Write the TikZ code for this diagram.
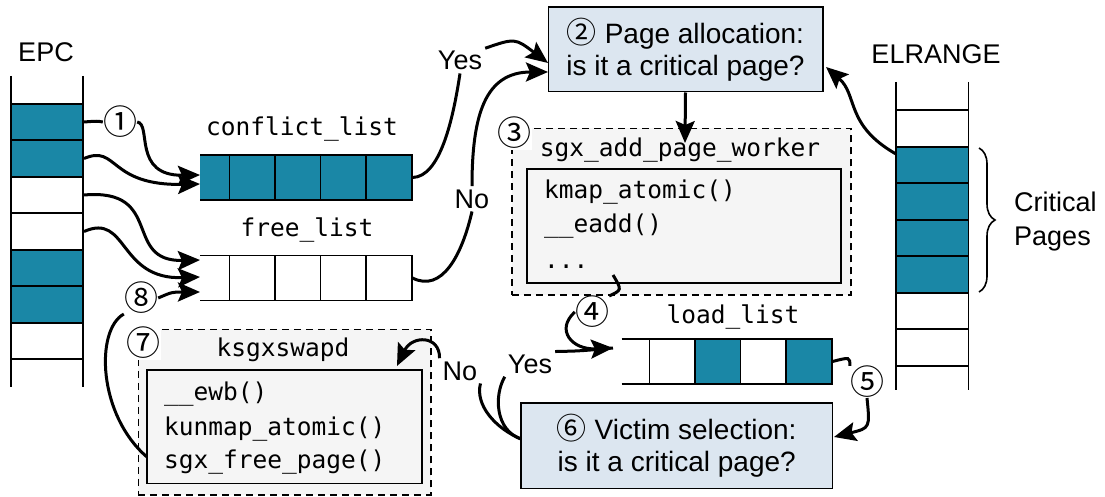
\documentclass[tikz,border=0pt]{standalone}
\usepackage{fontspec}
\setmainfont{Liberation Sans}
\setmonofont{DejaVu Sans Mono}
\newfontfamily\circfont{Noto Sans CJK SC}
\usetikzlibrary{arrows.meta,decorations.pathreplacing}
\definecolor{pageblue}{RGB}{26,135,166}
\definecolor{boxblue}{RGB}{220,230,240}
\definecolor{boxgray}{RGB}{245,245,245}
\newcommand{\stepnum}[1]{{\circfont\fontsize{30}{32}\selectfont #1}}

\begin{document}
\begin{tikzpicture}[x=1pt,y=-1pt,
  label_style/.style={font=\fontsize{27}{30}\selectfont,inner sep=3pt},
  code_style/.style={font=\ttfamily\fontsize{24.5}{28}\selectfont,inner sep=0pt},
  num_style/.style={font=\circfont\fontsize{34}{34}\selectfont,inner sep=0pt},
  epc_cell/.style={draw=black,line width=1.6pt,minimum width=72.5pt,minimum height=36.5pt,inner sep=0pt},
  list_cell/.style={draw=black,line width=1.6pt,minimum width=45.6pt,minimum height=45pt,inner sep=0pt},
  page_full/.style={fill=pageblue},
  check_box/.style={draw=black,line width=1.6pt,fill=boxblue,inner sep=0pt,align=center,font=\fontsize{28}{32}\selectfont},
  func_box/.style={draw=black,dash pattern=on 7pt off 5pt,line width=1.6pt,fill=boxgray,inner sep=0pt},
  code_box/.style={draw=black,line width=1.6pt,fill=boxgray,inner sep=0pt},
  edge_style/.style={draw=black,line width=3pt},
  arrow_style/.style={edge_style,-{Stealth[length=22pt,width=19pt,inset=4pt]}}]
  \useasboundingbox (0,0) rectangle (1105,497);

  % EPC column
  \node[label_style,anchor=base] (epc_label) at (46,61.7) {EPC};
  \draw[line width=1.6pt] (11,76) -- (11,387) (83,76) -- (83,387);
  \node[epc_cell,page_full] (epc1) at (47,122) {};
  \node[epc_cell,page_full] (epc2) at (47,158.5) {};
  \node[epc_cell] (epc3) at (47,195) {};
  \node[epc_cell] (epc4) at (47,231.5) {};
  \node[epc_cell,page_full] (epc5) at (47,268) {};
  \node[epc_cell,page_full] (epc6) at (47,304.5) {};
  \node[epc_cell] (epc7) at (47,341) {};

  % ELRANGE column
  \node[label_style,anchor=base] (elr_label) at (936,63.3) {ELRANGE};
  \draw[line width=1.6pt] (896,82) -- (896,390) (968.5,82) -- (968.5,390);
  \node[epc_cell] (elr1) at (932.2,128.5) {};
  \node[epc_cell,page_full] (elr2) at (932.2,165) {};
  \node[epc_cell,page_full] (elr3) at (932.2,201.5) {};
  \node[epc_cell,page_full] (elr4) at (932.2,238) {};
  \node[epc_cell,page_full] (elr5) at (932.2,274.5) {};
  \node[epc_cell] (elr6) at (932.2,311) {};
  \node[epc_cell] (elr7) at (932.2,347.5) {};
  \draw[line width=1.6pt,decorate,decoration={brace,amplitude=16pt}] (979,148) -- (979,292);
  \node[label_style,anchor=base west,inner sep=0pt] (crit_label1) at (1014,211.7) {Critical};
  \node[label_style,anchor=base west,inner sep=0pt] (crit_label2) at (1014,245) {Pages};

  % conflict_list
  \node[code_style,anchor=base] (conflict_label) at (302,136) {conflict\_list};
  \fill[pageblue] (200,155) rectangle (229.3,200);
  \draw[line width=1.6pt] (200,155) -- (229.3,155) (200,200) -- (229.3,200);
  \node[list_cell,page_full] (conflict1) at (252.1,177.5) {};
  \node[list_cell,page_full] (conflict2) at (297.7,177.5) {};
  \node[list_cell,page_full] (conflict3) at (343.3,177.5) {};
  \node[list_cell,page_full] (conflict4) at (388.9,177.5) {};

  % free_list
  \node[code_style,anchor=base] (free_label) at (307,236.7) {free\_list};
  \draw[line width=1.6pt] (200,255.5) -- (229.3,255.5) (200,300.5) -- (229.3,300.5);
  \node[list_cell] (free1) at (252.1,278) {};
  \node[list_cell] (free2) at (297.7,278) {};
  \node[list_cell] (free3) at (343.3,278) {};
  \node[list_cell] (free4) at (388.9,278) {};

  % load_list
  \node[code_style,anchor=base] (load_label) at (733,323) {load\_list};
  \draw[line width=1.6pt] (621.7,339) -- (649.3,339) (621.7,384) -- (649.3,384);
  \node[list_cell] (load1) at (672.1,361.5) {};
  \node[list_cell,page_full] (load2) at (717.7,361.5) {};
  \node[list_cell] (load3) at (763.3,361.5) {};
  \node[list_cell,page_full] (load4) at (808.9,361.5) {};

  % decision boxes
  \node[check_box,minimum width=274.4pt,minimum height=84.4pt] (page_alloc) at (685.5,49.5)
    {\stepnum{②} Page allocation:\\is it a critical page?};
  \node[check_box,minimum width=311.3pt,minimum height=85.6pt] (victim) at (676.7,445.5)
    {\stepnum{⑥} Victim selection:\\is it a critical page?};

  % sgx_add_page_worker
  \node[func_box,minimum width=339.3pt,minimum height=166.7pt] (worker) at (681.4,211.7) {};
  \node[num_style,fill=white,inner sep=1pt] (num3) at (514,133) {③};
  \node[code_style,anchor=base] (worker_label) at (680,156.7) {sgx\_add\_page\_worker};
  \node[code_box,minimum width=314pt,minimum height=113.4pt] (worker_body) at (683.7,226) {};
  \node[code_style,anchor=base west] (worker_line1) at (544,198) {kmap\_atomic()};
  \node[code_style,anchor=base west] (worker_line2) at (544,233) {\_\_eadd()};
  \node[code_style,anchor=base west] (worker_line3) at (544,268) {...};

  % ksgxswapd
  \node[func_box,minimum width=292.4pt,minimum height=165.7pt] (swapd) at (284.5,412.2) {};
  \node[num_style,fill=white,inner sep=1pt] (num7) at (143,343) {⑦};
  \node[code_style,anchor=base] (swapd_label) at (283,356.7) {ksgxswapd};
  \node[code_box,minimum width=275pt,minimum height=113.3pt] (swapd_body) at (284.2,426.7) {};
  \node[code_style,anchor=base west] (swapd_line1) at (164,400) {\_\_ewb()};
  \node[code_style,anchor=base west] (swapd_line2) at (164,435) {kunmap\_atomic()};
  \node[code_style,anchor=base west] (swapd_line3) at (164,468) {sgx\_free\_page()};

  % step labels on the arrows
  \node[num_style] (num1) at (120,122) {①};
  \node[num_style] (num4) at (592,312) {④};
  \node[num_style] (num5) at (867,382) {⑤};
  \node[num_style] (num8) at (141,298) {⑧};
  \node[label_style,anchor=base] (yes_top) at (460,70) {Yes};
  \node[label_style,anchor=base] (no_mid) at (472,208) {No};
  \node[label_style,anchor=base] (yes_low) at (530,373.3) {Yes};
  \node[label_style,anchor=base] (no_low) at (460,380) {No};

  % arrow ends
  \coordinate (conflict_a) at (200,175);
  \coordinate (conflict_b) at (200,184);
  \coordinate (free_a) at (200,260);
  \coordinate (free_b) at (200,277);
  \coordinate (free_c) at (200,292);
  \coordinate (alloc_yes) at (548,63);
  \coordinate (alloc_no) at (548,72);
  \coordinate (alloc_back) at (826,67);
  \coordinate (worker_top) at (685,143);
  \coordinate (crit_out) at (896,154);
  \coordinate (add_out) at (613,275);
  \coordinate (load_in) at (613,348);
  \coordinate (victim_in) at (521,439);
  \coordinate (victim_back) at (834,437);
  \coordinate (swapd_in) at (397,366);
  \coordinate (swapd_out) at (147,457);

  % EPC pages into the lists
  \draw[edge_style] (epc1.east) .. controls (97,121) .. (num1.west);
  \draw[arrow_style] (num1.east) .. controls (152,124) and (132,176) .. (conflict_a);
  \draw[arrow_style] (epc2.east) .. controls (118,144) and (108,186) .. (conflict_b);
  \draw[arrow_style] (epc3.east) .. controls (165,188) and (122,262) .. (free_a);
  \draw[arrow_style] (epc4.east) .. controls (128,212) and (118,280) .. (free_b);
  \draw[arrow_style] (num8.east) .. controls (172,292) .. (free_c);
  \draw[edge_style] (swapd_out) .. controls (98,415) and (95,330) .. (num8.south west);

  % lists into page allocation
  \draw[edge_style] (conflict4.east) .. controls (440,177) and (453,120) .. (yes_top.south);
  \draw[arrow_style] (yes_top.north east) .. controls (515,38) .. (alloc_yes);
  \draw[edge_style] (free4.east) .. controls (442,293) and (462,255) .. (no_mid.south);
  \draw[arrow_style] (no_mid.north) .. controls (472,115) and (485,72) .. (alloc_no);
  \draw[arrow_style] (crit_out) .. controls (845,125) and (858,95) .. (alloc_back);
  \draw[arrow_style] (page_alloc.south) -- (worker_top);

  % worker to load_list to victim selection
  \draw[edge_style] (add_out) .. controls (622,290) .. (num4.north east);
  \draw[arrow_style] (num4.west) .. controls (555,330) and (572,350) .. (load_in);
  \draw[edge_style] (yes_low.north east) .. controls (580,351) .. (load_in);
  \draw[edge_style] (load4.east) .. controls (850,357) .. (num5.north west);
  \draw[arrow_style] (num5.south) .. controls (870,428) .. (victim_back);
  \draw[edge_style] (victim_in) .. controls (495,430) and (494,395) .. (yes_low.south west);
  \draw[edge_style] (victim_in) .. controls (495,428) and (475,405) .. (no_low.south east);
  \draw[arrow_style] (no_low.north west) .. controls (440,335) and (412,335) .. (swapd_in);
\end{tikzpicture}
\end{document}
